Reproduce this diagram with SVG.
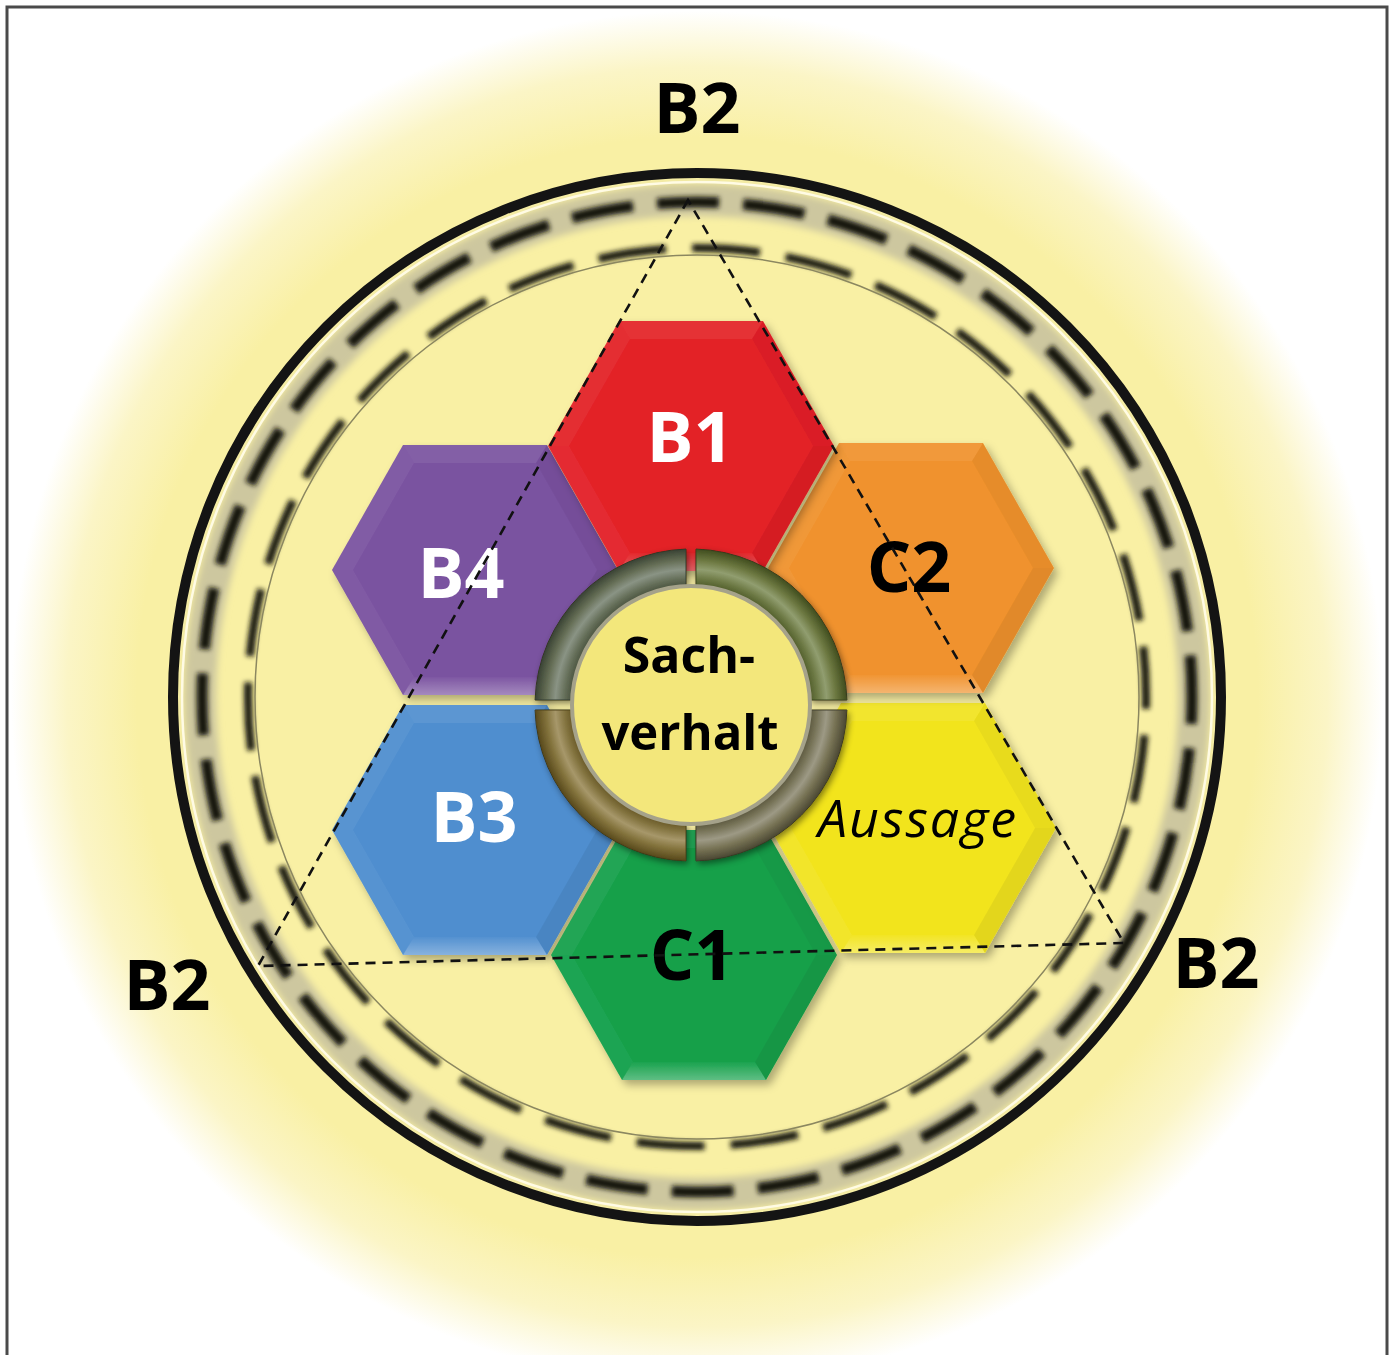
<svg xmlns="http://www.w3.org/2000/svg" xmlns:xlink="http://www.w3.org/1999/xlink" width="1392" height="1355" viewBox="0 0 1392 1355">
<defs>
  <style>
    .lbl{font-family:"Open Sans","Noto Sans","Liberation Sans",sans-serif;font-weight:700;text-anchor:middle}
    .w{fill:#ffffff}
    .k{fill:#000000}
    .it{font-family:"Open Sans","Noto Sans","Liberation Sans",sans-serif;font-style:italic;font-weight:400;text-anchor:middle;fill:#000}
    .tri{fill:none;stroke:#111;stroke-width:2.6;stroke-dasharray:10 7}
  </style>
  <radialGradient id="glow" cx="697" cy="697" r="700" gradientUnits="userSpaceOnUse">
    <stop offset="0" stop-color="#f9f0a4"/>
    <stop offset="0.8" stop-color="#f9f0a4"/>
    <stop offset="0.9" stop-color="#fbf5c6"/>
    <stop offset="0.98" stop-color="#ffffff"/>
    <stop offset="1" stop-color="#ffffff"/>
  </radialGradient>
  <radialGradient id="ringG" cx="0" cy="0" r="156" gradientUnits="userSpaceOnUse">
    <stop offset="0.76" stop-color="#4c4826"/>
    <stop offset="0.81" stop-color="#6e6a45"/>
    <stop offset="0.87" stop-color="#9a9679"/>
    <stop offset="0.93" stop-color="#6f6a42"/>
    <stop offset="1" stop-color="#3c381b"/>
  </radialGradient>
  <linearGradient id="botHi" x1="0" y1="0" x2="0" y2="1">
    <stop offset="0" stop-color="#fff" stop-opacity="0.03"/>
    <stop offset="1" stop-color="#fff" stop-opacity="0.32"/>
  </linearGradient>
  <filter id="blur3" x="-10%" y="-10%" width="120%" height="120%"><feGaussianBlur stdDeviation="3.5"/></filter>
  <filter id="blur2" x="-10%" y="-10%" width="120%" height="120%"><feGaussianBlur stdDeviation="2.8"/></filter>
  <filter id="shadow" x="-20%" y="-20%" width="140%" height="140%">
    <feDropShadow dx="4" dy="5" stdDeviation="4" flood-color="#000" flood-opacity="0.3"/>
  </filter>
  <filter id="rshadow" x="-20%" y="-20%" width="140%" height="140%">
    <feDropShadow dx="2" dy="3" stdDeviation="3" flood-color="#000" flood-opacity="0.45"/>
  </filter>
  <path id="hex" d="M143,0 L72,125 L-72,125 L-143,0 L-72,-125 L72,-125 Z"/>
  <g id="bevel">
    <path d="M-72,-125 L72,-125 L61,-107 L-61,-107 Z" fill="#fff" fill-opacity="0.07"/>
    <path d="M72,-125 L143,0 L122,0 L61,-107 Z" fill="#000" fill-opacity="0.04"/>
    <path d="M143,0 L72,125 L61,107 L122,0 Z" fill="#000" fill-opacity="0.06"/>
    <path d="M72,125 L-72,125 L-61,107 L61,107 Z" fill="url(#botHi)"/>
    <path d="M-72,125 L-143,0 L-122,0 L-61,107 Z" fill="#fff" fill-opacity="0.05"/>
    <path d="M-143,0 L-72,-125 L-61,-107 L-122,0 Z" fill="#fff" fill-opacity="0.06"/>
  </g>
  <path id="seg" d="M5,-155.92 A156,156 0 0 1 155.92,-5 L118.89,-5 A119,119 0 0 0 5,-118.89 Z"/>
</defs>

<!-- background -->
<rect x="0" y="0" width="1392" height="1355" fill="#ffffff"/>
<rect x="7" y="7" width="1380" height="1360" fill="url(#glow)" stroke="#4a4a4a" stroke-width="3"/>

<!-- rings -->
<g id="rings">
  <circle cx="697" cy="697" r="497" fill="none" stroke="#cdc79f" stroke-width="32" filter="url(#blur3)"/>
  <circle cx="697" cy="697" r="515" fill="none" stroke="#fffbe4" stroke-width="2.5"/>
  <circle cx="697" cy="697" r="524" fill="none" stroke="#141414" stroke-width="10"/>
  <circle cx="697" cy="697" r="495" fill="none" stroke="#17150c" stroke-width="11" stroke-dasharray="62 24.2" stroke-dashoffset="35" filter="url(#blur2)"/>
  <circle cx="697" cy="697" r="449" fill="none" stroke="#17150c" stroke-width="8" stroke-dasharray="68 26.2" stroke-dashoffset="56" filter="url(#blur2)"/>
  <circle cx="697" cy="697" r="442" fill="none" stroke="#8b8760" stroke-width="1.5"/>
</g>

<!-- hexagon nodes -->
<g id="node-b4" filter="url(#shadow)">
  <g transform="translate(475,570)"><use xlink:href="#hex" fill="#7a52a0"/><use xlink:href="#bevel"/></g>
  <text class="lbl w" x="461" y="598" font-size="70">B4</text>
</g>
<g id="node-b3" filter="url(#shadow)">
  <g transform="translate(475,830)"><use xlink:href="#hex" fill="#4f8ecf"/><use xlink:href="#bevel"/></g>
  <text class="lbl w" x="474" y="842" font-size="70">B3</text>
</g>
<g id="node-c1" filter="url(#shadow)">
  <g transform="translate(694,955)"><use xlink:href="#hex" fill="#14a04a"/><use xlink:href="#bevel"/></g>
  <text class="lbl k" x="692" y="980" font-size="70">C1</text>
</g>
<g id="node-aussage" filter="url(#shadow)">
  <g transform="translate(913,828)"><use xlink:href="#hex" fill="#f2e41e"/><use xlink:href="#bevel"/></g>
  <text class="it" x="918" y="837" font-size="52" letter-spacing="2">Aussage</text>
</g>
<g id="node-c2" filter="url(#shadow)">
  <g transform="translate(911,568)"><use xlink:href="#hex" fill="#f0922d"/><use xlink:href="#bevel"/></g>
  <text class="lbl k" x="909" y="592" font-size="70">C2</text>
</g>
<g id="node-b1" filter="url(#shadow)">
  <g transform="translate(691,446)"><use xlink:href="#hex" fill="#e32127"/><use xlink:href="#bevel"/></g>
  <text class="lbl w" x="690" y="462" font-size="70">B1</text>
</g>

<!-- connectors: dashed triangle -->
<g id="connectors">
  <polygon class="tri" points="688,200 258,966 1124,943"/>
</g>

<!-- central node -->
<g id="node-sachverhalt">
  <g transform="translate(691,705)" filter="url(#rshadow)">
    <use xlink:href="#seg" fill="url(#ringG)" stroke="#35321a" stroke-width="1"/>
    <use xlink:href="#seg" fill="url(#ringG)" stroke="#35321a" stroke-width="1" transform="scale(-1,1)"/>
    <use xlink:href="#seg" fill="url(#ringG)" stroke="#35321a" stroke-width="1" transform="scale(1,-1)"/>
    <use xlink:href="#seg" fill="url(#ringG)" stroke="#35321a" stroke-width="1" transform="scale(-1,-1)"/>
    <use xlink:href="#seg" fill="#5fd038" fill-opacity="0.14"/>
    <use xlink:href="#seg" fill="#2a86d0" fill-opacity="0.14" transform="scale(-1,1)"/>
    <use xlink:href="#seg" fill="#b8b2e0" fill-opacity="0.12" transform="scale(1,-1)"/>
    <use xlink:href="#seg" fill="#eaa020" fill-opacity="0.16" transform="scale(-1,-1)"/>
  </g>
  <circle cx="691" cy="705" r="119" fill="#f3e77b" stroke="#a5a28a" stroke-width="4"/>
  <text class="lbl k" x="689" y="673" font-size="50">Sach-</text>
  <text class="lbl k" x="690" y="750" font-size="49">verhalt</text>
</g>

<!-- vertex labels -->
<g id="labels-b2">
  <text class="lbl k" x="697" y="133" font-size="70">B2</text>
  <text class="lbl k" x="167" y="1010" font-size="70">B2</text>
  <text class="lbl k" x="1216" y="988" font-size="70">B2</text>
</g>
</svg>
